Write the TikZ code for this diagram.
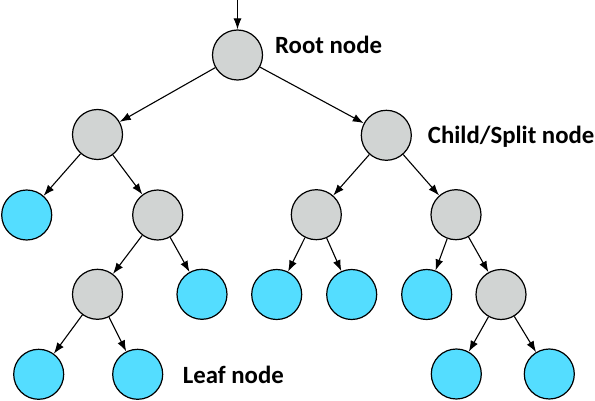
\documentclass[tikz,border=0pt]{standalone}
\usepackage{fontspec}
\setmainfont{Carlito}
\usetikzlibrary{arrows.meta}

\definecolor{splitgray}{RGB}{209,212,211}
\definecolor{leafblue}{RGB}{84,221,255}

\begin{document}
\begin{tikzpicture}[x=1pt,y=-1pt,
    split/.style={circle,draw=black,line width=1.2pt,fill=splitgray,minimum size=50pt,inner sep=0},
    leaf/.style={circle,draw=black,line width=1.2pt,fill=leafblue,minimum size=50pt,inner sep=0},
    edge/.style={line width=1.1pt,-{Latex[length=11pt,width=8pt]}},
    lbl/.style={inner sep=0,anchor=base west,font=\fontsize{24.8}{28}\selectfont\bfseries}]
    \useasboundingbox (0,0) rectangle (595,401);
    % tree
    \node[split] (root) at (237.5,55) {};
    \node[split] (a) at (97.5,134.5) {};
    \node[split] (b) at (386.3,135.3) {};
    \node[leaf] (a1) at (26.7,215) {};
    \node[split] (a2) at (157.7,215) {};
    \node[split] (a21) at (97.5,294.3) {};
    \node[leaf] (a22) at (202,294.3) {};
    \node[leaf] (a211) at (38.7,374.3) {};
    \node[leaf] (a212) at (137.7,374.3) {};
    \node[split] (b1) at (316.3,214.7) {};
    \node[split] (b2) at (456,214.7) {};
    \node[leaf] (b11) at (276.7,294.5) {};
    \node[leaf] (b12) at (351.7,294.5) {};
    \node[leaf] (b21) at (426.7,294.5) {};
    \node[split] (b22) at (501,294.5) {};
    \node[leaf] (b221) at (456.3,374) {};
    \node[leaf] (b222) at (549.3,374) {};
    \coordinate (in) at (237.5,0);
    % connectors
    \draw[edge] (in) -- (root);
    \foreach \p/\c in {root/a,root/b,a/a1,a/a2,a2/a21,a2/a22,a21/a211,a21/a212,b/b1,b/b2,b1/b11,b1/b12,b2/b21,b2/b22,b22/b221,b22/b222}
        \draw[edge] (\p) -- (\c);
    % labels
    \node[lbl] (root_text) at (275,53.3) {Root node};
    \node[lbl] (split_text) at (427.7,143.4) {Child/Split node};
    \node[lbl] (leaf_text) at (182.7,383.3) {Leaf node};
\end{tikzpicture}
\end{document}
